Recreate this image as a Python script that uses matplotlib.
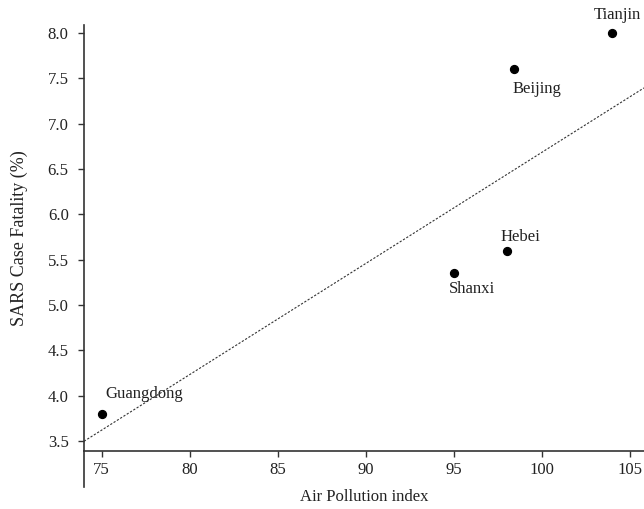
import numpy as np
import matplotlib
matplotlib.use('Agg')
import matplotlib.pyplot as plt

# Data
provinces = ['Tianjin', 'Beijing', 'Hebei', 'Shanxi', 'Guangdong']
pollution = [104.0, 98.4, 98.0, 95.0, 75.0]
fatality = [8.0, 7.6, 5.6, 5.35, 3.8]

# Fitted trend line as drawn (slope / intercept estimated from the plot)
trend_slope = 0.1226
trend_intercept = -5.575

# Label offsets in points (dx, dy) relative to each point
label_offsets = {
    'Tianjin': (4, 13),
    'Beijing': (17, -14),
    'Hebei': (10, 10),
    'Shanxi': (13, -11),
    'Guangdong': (3, 14),
}
label_ha = {
    'Tianjin': 'center', 'Beijing': 'center', 'Hebei': 'center',
    'Shanxi': 'center', 'Guangdong': 'left',
}

plt.rcParams['font.family'] = ['Liberation Serif', 'DejaVu Serif']

fig = plt.figure(figsize=(6.44, 5.09), dpi=100)
ax = fig.add_axes([84 / 644, 58 / 509, 560 / 644, 426 / 509])

xlim = (74.0, 105.8)
ylim = (3.39, 8.09)

# trend line
xs = np.array(xlim)
ax.plot(xs, trend_slope * xs + trend_intercept, color='#333333',
        linestyle=(0, (2, 1.5)), linewidth=0.8, zorder=1)

ax.scatter(pollution, fatality, s=32, color='black', zorder=3)

for name, x, y in zip(provinces, pollution, fatality):
    dx, dy = label_offsets[name]
    ax.annotate(name, (x, y), xytext=(dx, dy), textcoords='offset points',
                ha=label_ha[name], va='center', fontsize=12, color='#222222')

ax.set_xlim(*xlim)
ax.set_ylim(*ylim)
ax.set_xticks(np.arange(75, 106, 5))
ax.set_yticks(np.arange(3.5, 8.01, 0.5))
ax.set_yticklabels([f'{v:.1f}' for v in np.arange(3.5, 8.01, 0.5)])

ax.spines['top'].set_visible(False)
ax.spines['right'].set_visible(False)
for sp in ('left', 'bottom'):
    ax.spines[sp].set_linewidth(1.2)
    ax.spines[sp].set_color('#333333')

# left axis line continues below the x axis, as in the original
ax.plot([0, 0], [0, -36 / 426], transform=ax.transAxes, color='#333333',
        linewidth=1.2, clip_on=False)

ax.tick_params(direction='out', length=4, width=1, colors='#333333',
               labelsize=12, labelcolor='#222222')
ax.tick_params(axis='x', pad=4)
ax.tick_params(axis='y', pad=7)

ax.set_xlabel('Air Pollution index', fontsize=12, color='#222222', labelpad=8)
ax.set_ylabel('SARS Case Fatality (%)', fontsize=13, color='#222222', labelpad=14)

fig.savefig('out.png', dpi=100)
